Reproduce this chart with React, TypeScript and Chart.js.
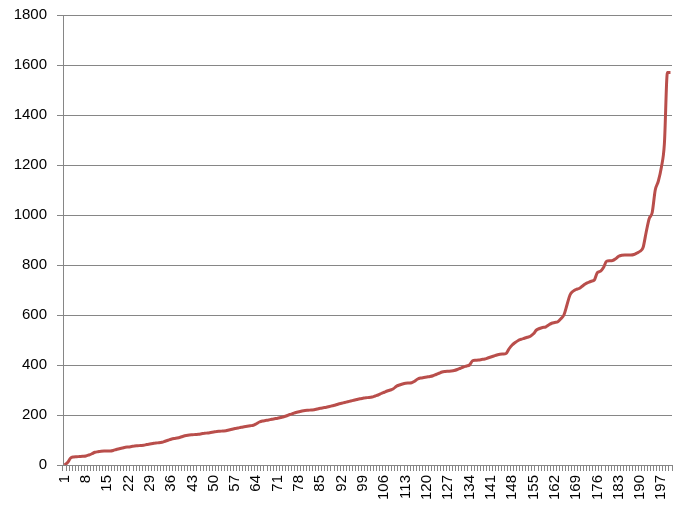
import React, { useEffect, useRef } from "react";
import { Chart, registerables } from "chart.js";

Chart.register(...registerables);

const values: number[] = [
  0, 10, 28, 32, 33, 34, 35, 36, 40, 45,
  51, 53, 55, 56, 56, 56, 58, 62, 65, 68,
  71, 72, 74, 76, 77, 78, 79, 82, 84, 86,
  88, 89, 91, 95, 99, 103, 106, 108, 111, 115,
  118, 120, 121, 122, 123, 125, 127, 128, 130, 132,
  134, 135, 136, 137, 140, 143, 146, 148, 151, 153,
  155, 157, 159, 165, 172, 176, 178, 180, 183, 185,
  187, 190, 193, 197, 202, 206, 210, 213, 216, 218,
  219, 220, 221, 224, 227, 229, 231, 234, 237, 240,
  244, 247, 250, 253, 256, 259, 262, 265, 267, 269,
  270, 272, 276, 280, 286, 291, 296, 300, 305, 315,
  320, 324, 327, 328, 329, 335, 344, 348, 350, 352,
  354, 357, 362, 367, 372, 374, 375, 376, 378, 382,
  387, 392, 396, 400, 417, 419, 420, 422, 424, 428,
  432, 436, 440, 443, 444, 446, 465, 480, 490, 498,
  503, 507, 511, 515, 525, 540, 546, 550, 552, 560,
  567, 570, 573, 585, 600, 640, 680, 695, 702, 706,
  715, 724, 730, 735, 740, 770, 775, 790, 815, 817,
  818, 825, 835, 839, 840, 840, 840, 842, 848, 855,
  870, 930, 985, 1010, 1100, 1135, 1190, 1285, 1570, 1570,
];

const categories: string[] = values.map((_, i) => String(i + 1));

const yTicks: number[] = [0, 200, 400, 600, 800, 1000, 1200, 1400, 1600, 1800];

export default function App() {
  const ref = useRef<HTMLCanvasElement | null>(null);

  useEffect(() => {
    if (!ref.current) return;
    const chart = new Chart(ref.current, {
      type: "line",
      data: {
        labels: categories,
        datasets: [
          {
            data: values,
            borderColor: "#B94E4B",
            borderWidth: 3,
            pointRadius: 0,
            cubicInterpolationMode: "monotone",
            fill: false,
          },
        ],
      },
      options: {
        animation: false,
        responsive: false,
        maintainAspectRatio: false,
        layout: { padding: { top: 15, right: 17, left: 0, bottom: 0 } },
        plugins: { legend: { display: false }, tooltip: { enabled: false } },
        scales: {
          x: {
            type: "category",
            offset: true,
            grid: {
              display: true,
              offset: true,
              drawOnChartArea: false,
              drawTicks: true,
              tickLength: 6,
              color: "#868686",
            },
            border: { display: true, color: "#868686" },
            ticks: {
              autoSkip: false,
              maxRotation: 90,
              minRotation: 90,
              padding: 4,
              color: "#000",
              font: { family: "Liberation Sans", size: 15, lineHeight: 1 },
              callback: (_v: any, i: number) => (i % 7 === 0 ? categories[i] : ""),
            },
            afterFit: (s: any) => {
              s.height = 59;
              s.paddingLeft = 0;
              s.paddingRight = 0;
            },
          },
          y: {
            min: 0,
            max: 1800,
            afterBuildTicks: (s: any) => {
              s.ticks = yTicks.map((v) => ({ value: v }));
            },
            grid: {
              color: "#868686",
              tickLength: 6,
            },
            border: { display: true, color: "#868686" },
            ticks: {
              padding: 10,
              color: "#000",
              font: { family: "Liberation Sans", size: 15, lineHeight: 1 },
              callback: (v: any) => String(v),
            },
            afterFit: (s: any) => {
              s.width = 63;
              s.paddingTop = 0;
              s.paddingBottom = 0;
            },
          },
        },
      },
    });
    return () => chart.destroy();
  }, []);

  return (
    <div style={{ position: "fixed", left: 0, top: 0, width: 689, height: 524, background: "#fff" }}>
      <canvas ref={ref} width={689} height={524} style={{ width: 689, height: 524 }} />
    </div>
  );
}
